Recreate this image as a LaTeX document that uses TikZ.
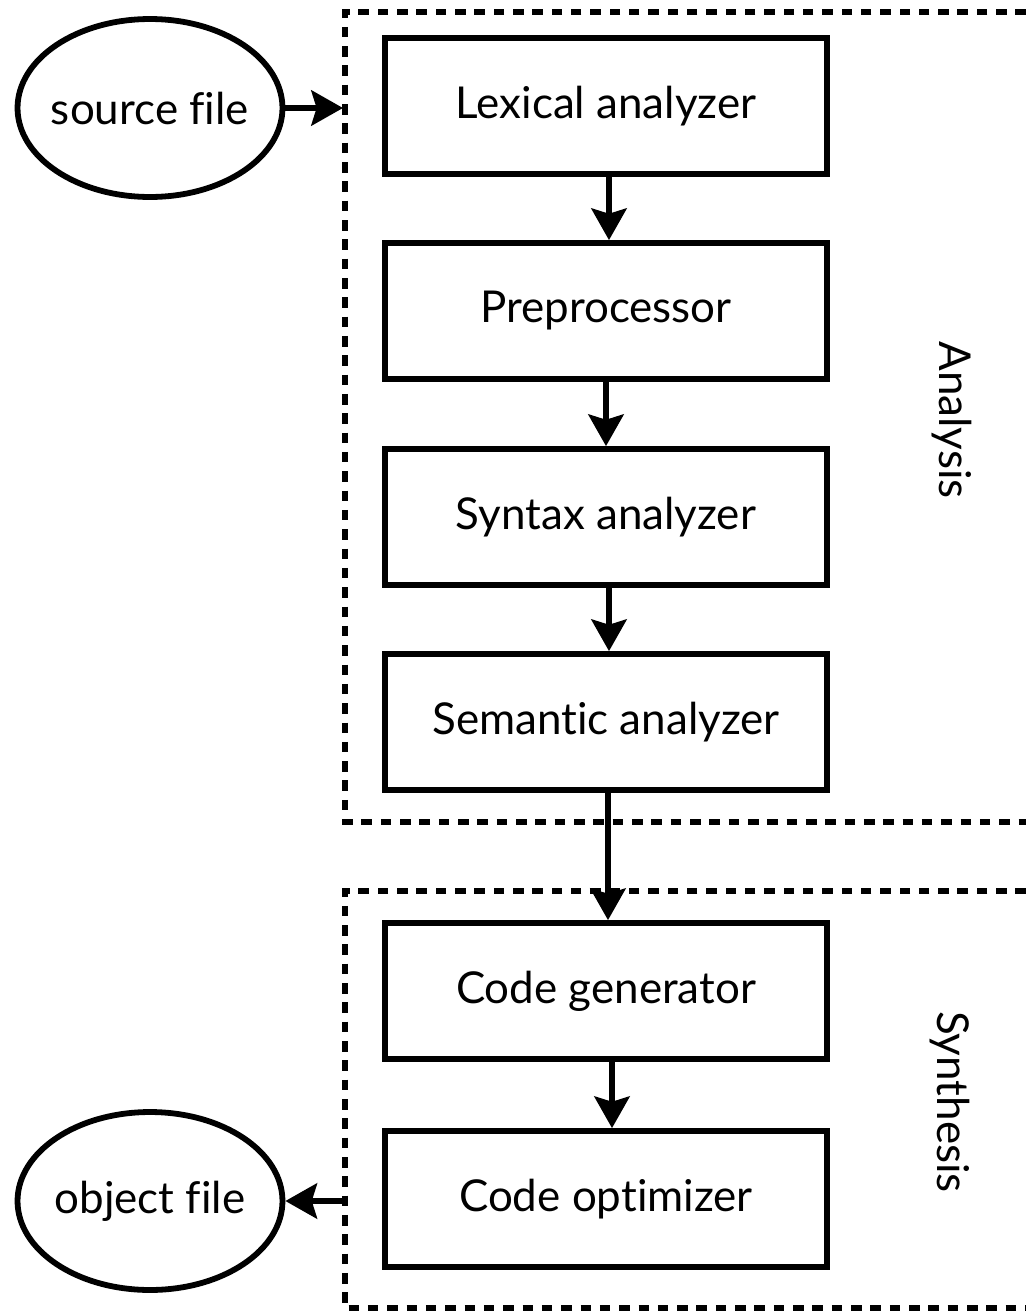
\documentclass[tikz,border=0pt]{standalone}
\usepackage{fontspec}
\setmainfont{Lato}[Ligatures=NoCommon]
\usetikzlibrary{arrows.meta,shapes.geometric,shadows}

\begin{document}
\begin{tikzpicture}[x=0.02cm, y=-0.02cm, line width=3.3pt,
	stage/.style={draw, fill=white, minimum width=8.84cm, minimum height=2.72cm, inner sep=0pt, font=\fontsize{25}{30}\selectfont, drop shadow={opacity=0.18, shadow xshift=1.5pt, shadow yshift=-1.5pt}},
	file/.style={draw, ellipse, fill=white, minimum width=5.3cm, minimum height=3.56cm, inner xsep=-0.45cm, inner ysep=0pt, font=\fontsize{25}{30}\selectfont},
	phase/.style={dash pattern=on 6pt off 5pt, line width=3.3pt},
	flow/.style={-{Stealth[length=18pt, width=20pt, inset=3pt]}},
	side/.style={rotate=-90, font=\fontsize{25}{30}\selectfont}]
			\useasboundingbox (0, 0) rectangle (1026, 1312);
			% Define phase frames
			\draw[phase] (1026, 12) -| (345, 822) -- (1026, 822);
			\draw[phase] (1026, 891) -| (345, 1308) -- (1026, 1308);
			\node[side] at (952, 420) (analysis) {Analysis};
			\node[side] at (950, 1102) (synthesis) {Synthesis};
			% Define stages
			\node[stage] at (606, 106) (lexer) {Lexical analyzer};
			\node[stage] at (606, 311) (prep) {Preprocessor};
			\node[stage] at (606, 517) (parser) {Syntax analyzer};
			\node[stage] at (606, 722) (semantic) {Semantic analyzer};
			\node[stage] at (606, 991) (codegen) {Code generator};
			\node[stage] at (606, 1199) (optimizer) {Code optimizer};
			% Define files
			\node[file] at (150, 108) (src) {source file};
			\node[file] at (150, 1201) (obj) {object file};
			\coordinate (ana_in) at (343, 108);
			\coordinate (syn_out) at (345, 1201);
			% Draw arrows between stages
			\draw[flow] (src) -- (ana_in);
			\draw[flow] (lexer.south -| 609, 0) -- (prep.north -| 609, 0);
			\draw[flow] (prep.south -| 606, 0) -- (parser.north -| 606, 0);
			\draw[flow] (parser.south -| 609, 0) -- (semantic.north -| 609, 0);
			\draw[flow] (semantic.south -| 608, 0) -- (codegen.north -| 608, 0);
			\draw[flow] (codegen.south -| 612, 0) -- (optimizer.north -| 612, 0);
			\draw[flow] (syn_out) -- (obj);
		\end{tikzpicture}
\end{document}
